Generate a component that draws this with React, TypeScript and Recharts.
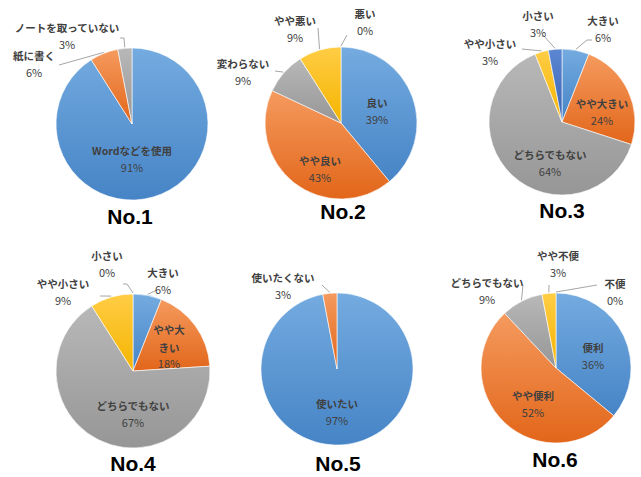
import React from 'react';
import { PieChart, Pie, Cell } from 'recharts';

// ---------- data ----------
const names1 = ['Wordなどを使用', '紙に書く', 'ノートを取っていない'];
const values1 = [91, 6, 3];
const colors1 = ['blue', 'orange', 'gray'];

const names2 = ['良い', 'やや良い', '変わらない', 'やや悪い', '悪い'];
const values2 = [39, 43, 9, 9, 0];
const colors2 = ['blue', 'orange', 'gray', 'yellow', 'navy'];

const names3 = ['大きい', 'やや大きい', 'どちらでもない', 'やや小さい', '小さい'];
const values3 = [6, 24, 64, 3, 3];
const colors3 = ['blue', 'orange', 'gray', 'yellow', 'navy'];

const names4 = ['大きい', 'やや大きい', 'どちらでもない', 'やや小さい', '小さい'];
const values4 = [6, 18, 67, 9, 0];
const colors4 = ['blue', 'orange', 'gray', 'yellow', 'navy'];

const names5 = ['使いたい', '使いたくない'];
const values5 = [97, 3];
const colors5 = ['blue', 'orange'];

const names6 = ['便利', 'やや便利', 'どちらでもない', 'やや不便', '不便'];
const values6 = [36, 52, 9, 3, 0];
const colors6 = ['blue', 'orange', 'gray', 'yellow', 'navy'];

const titles = ['No.1', 'No.2', 'No.3', 'No.4', 'No.5', 'No.6'];

// ---------- layout (label offsets relative to pie centre) ----------
type LabelPos = { x: number; y: number; line?: [number, number][]; wrapAt?: number; pctDy?: number };

const layout1: LabelPos[] = [
  { x: 0, y: 26 },
  { x: -98, y: -69, line: [[-73, -59]] },
  { x: -65, y: -97, line: [[-8, -86], [-12, -86]] },
];
const layout2: LabelPos[] = [
  { x: 36, y: -21 },
  { x: -21, y: 37 },
  { x: -98, y: -60, line: [[-66, -52]] },
  { x: -46, y: -103, line: [[-23, -95]] },
  { x: 24, y: -110, line: [[6, -88]] },
];
const layout3: LabelPos[] = [
  { x: 41, y: -102, line: [[25, -82], [30, -82]] },
  { x: 40, y: -19 },
  { x: -12, y: 32 },
  { x: -72, y: -79, line: [[-40, -73]] },
  { x: -24, y: -107, line: [[-19, -87]] },
];
const layout4: LabelPos[] = [
  { x: 30, y: -99, line: [[24, -81]] },
  { x: 36, y: -42, wrapAt: 3, pctDy: 34 },
  { x: 0, y: 34 },
  { x: -70, y: -88, line: [[-33, -75]] },
  { x: -26, y: -116, line: [[-6, -87], [-10, -87]] },
];
const layout5: LabelPos[] = [
  { x: 0, y: 34 },
  { x: -54, y: -92, line: [[-15, -84]] },
];
const layout6: LabelPos[] = [
  { x: 37, y: -21 },
  { x: -23, y: 27 },
  { x: -69, y: -86, line: [[-33, -83]] },
  { x: 2, y: -113, line: [[-7, -83]] },
  { x: 59, y: -85, line: [[41, -83]] },
];

const gradients: Record<string, [string, string]> = {
  blue: ['#74abe0', '#4684c6'],
  orange: ['#f59a5e', '#e2661a'],
  gray: ['#b8b8b8', '#969696'],
  yellow: ['#ffcd45', '#f5b400'],
  navy: ['#5b86d1', '#3a64b4'],
};

const RAD = Math.PI / 180;
const LABEL_FONT = '"Noto Sans CJK JP", "Noto Sans", sans-serif';

const makeLabel = (names: string[], values: number[], layout: LabelPos[]) => (props: any) => {
  const { cx, cy, midAngle, outerRadius, index } = props;
  const L = layout[index];
  if (!L) return null;
  const name = names[index];
  const lx = cx + L.x;
  const ly = cy + L.y;
  const lines: string[] = L.wrapAt ? [name.slice(0, L.wrapAt), name.slice(L.wrapAt)] : [name];
  const pctDy = L.pctDy ?? 17;
  let path: string | null = null;
  if (L.line) {
    const ex = cx + (outerRadius + 1) * Math.cos(-midAngle * RAD);
    const ey = cy + (outerRadius + 1) * Math.sin(-midAngle * RAD);
    path = `M${ex},${ey}` + L.line.map(([px, py]) => ` L${cx + px},${cy + py}`).join('');
  }
  return (
    <g key={`lbl-${index}`}>
      {path && <path d={path} stroke="#a6a6a6" strokeWidth={1} fill="none" />}
      {lines.map((t, i) => (
        <text
          key={i}
          x={lx}
          y={ly + i * 18}
          textAnchor="middle"
          dominantBaseline="central"
          fontFamily={LABEL_FONT}
          fontSize={10.5}
          fontWeight="bold"
          fill="#404040"
        >
          {t}
        </text>
      ))}
      <text
        x={lx}
        y={ly + pctDy}
        textAnchor="middle"
        dominantBaseline="central"
        fontFamily={LABEL_FONT}
        fontSize={11}
        fill="#404040"
      >
        {`${values[index]}%`}
      </text>
    </g>
  );
};

const pies = [
  { names: names1, values: values1, colors: colors1, layout: layout1, cx: 132, cy: 124, r: 76 },
  { names: names2, values: values2, colors: colors2, layout: layout2, cx: 341, cy: 123, r: 76 },
  { names: names3, values: values3, colors: colors3, layout: layout3, cx: 562, cy: 122, r: 73 },
  { names: names4, values: values4, colors: colors4, layout: layout4, cx: 133, cy: 371, r: 77 },
  { names: names5, values: values5, colors: colors5, layout: layout5, cx: 337, cy: 369, r: 76 },
  { names: names6, values: values6, colors: colors6, layout: layout6, cx: 556, cy: 368, r: 75 },
];

const titlePos = [
  { x: 130, y: 217 },
  { x: 343, y: 212 },
  { x: 562, y: 211 },
  { x: 133, y: 464 },
  { x: 338, y: 464 },
  { x: 555, y: 460 },
];

export default function App() {
  return (
    <div style={{ position: 'absolute', left: 0, top: 0, width: 641, height: 477, background: '#fff', overflow: 'hidden' }}>
      <PieChart width={641} height={477} margin={{ top: 0, right: 0, bottom: 0, left: 0 }}>
        <defs>
          {Object.entries(gradients).map(([k, [a, b]]) => (
            <linearGradient key={k} id={`g-${k}`} x1="0" y1="0" x2="0" y2="1">
              <stop offset="0%" stopColor={a} />
              <stop offset="100%" stopColor={b} />
            </linearGradient>
          ))}
        </defs>
        {pies.map((p, pi) => {
          const data = p.names.map((n, i) => ({ name: n, value: p.values[i] }));
          return (
            <Pie
              key={pi}
              data={data}
              dataKey="value"
              nameKey="name"
              cx={p.cx}
              cy={p.cy}
              innerRadius={0}
              outerRadius={p.r}
              startAngle={90}
              endAngle={-270}
              isAnimationActive={false}
              labelLine={false}
              label={makeLabel(p.names, p.values, p.layout)}
              stroke="rgba(255,255,255,0.75)"
              strokeWidth={0.8}
            >
              {data.map((d, i) => (
                <Cell key={i} fill={`url(#g-${p.colors[i]})`} />
              ))}
            </Pie>
          );
        })}
      </PieChart>
      {titles.map((t, i) => (
        <div
          key={t}
          style={{
            position: 'absolute',
            left: titlePos[i].x - 40,
            top: titlePos[i].y - 10,
            width: 80,
            height: 20,
            lineHeight: '20px',
            textAlign: 'center',
            fontFamily: '"Liberation Sans", Arial, sans-serif',
            fontWeight: 'bold',
            fontSize: 21,
            color: '#000',
          }}
        >
          {t}
        </div>
      ))}
    </div>
  );
}
